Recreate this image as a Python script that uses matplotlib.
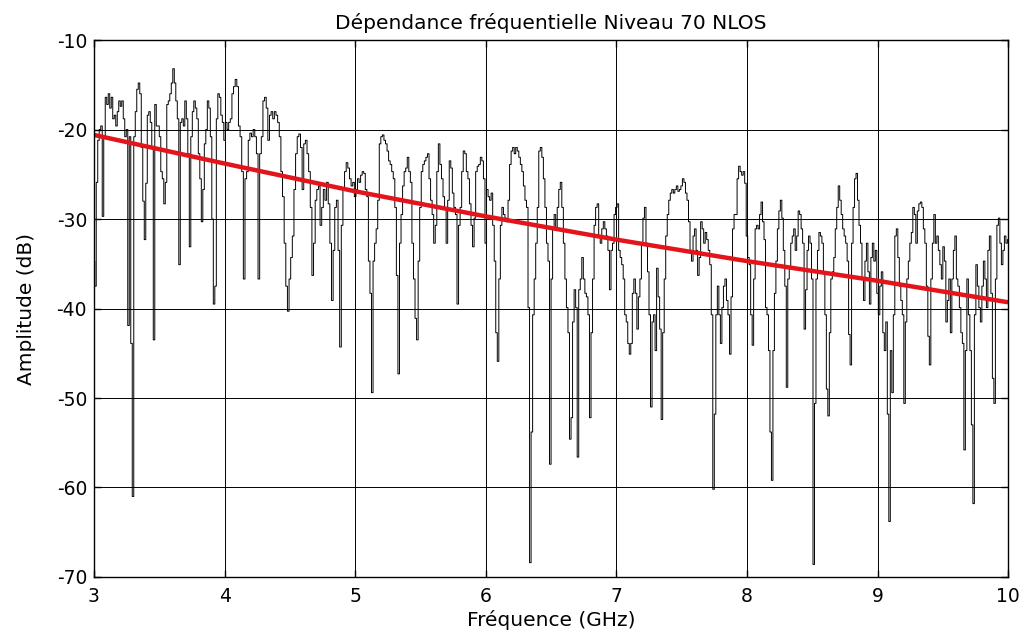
import numpy as np
import matplotlib
matplotlib.use("Agg")
import matplotlib.pyplot as plt

plt.rcParams['font.family'] = ['DejaVu Sans']
plt.rcParams['axes.unicode_minus'] = False

# Measured amplitude (dB), read per 1-GHz band, evenly spaced in each band
amp_3_4 = [-34.7, -37.5, -25.9, -21.2, -20.0, -19.6, -29.7, -20.8, -16.4, -17.2, -16.0, -17.6, -16.4,
           -18.8, -18.4, -19.6, -18.0, -16.8, -17.4, -16.8, -18.8, -20.8, -20.0, -41.9, -20.8, -43.9,
           -61.0, -20.8, -18.0, -15.5, -14.8, -16.0, -22.0, -28.0, -32.3, -26.0, -18.4, -18.0, -19.2,
           -22.0, -43.5, -17.2, -19.6, -19.6, -20.8, -24.7, -25.5, -28.3, -25.9, -17.2, -16.8, -16.0,
           -14.8, -13.2, -14.8, -16.8, -18.8, -35.1, -19.2, -18.8, -19.6, -16.8, -18.8, -22.7, -33.1,
           -20.8, -18.0, -16.8, -17.6, -18.8, -22.7, -25.5, -30.3, -26.7, -21.6, -20.0, -16.8, -17.6,
           -20.8, -30.0, -39.5, -37.5, -18.8, -16.0, -16.4, -18.4, -19.2]
amp_4_5 = [-21.2, -19.2, -20.0, -19.2, -18.8, -16.0, -15.2, -14.4, -15.2, -19.6, -20.8, -24.7, -36.7,
           -25.5, -24.7, -21.2, -20.4, -20.8, -20.0, -20.8, -22.7, -36.7, -22.7, -20.8, -16.8, -16.4,
           -17.6, -21.2, -18.4, -18.0, -18.8, -18.0, -18.4, -19.2, -20.8, -24.7, -27.5, -32.7, -37.5,
           -40.3, -36.7, -34.3, -31.9, -26.7, -22.7, -20.8, -20.5, -22.0, -26.7, -21.6, -21.2, -22.7,
           -24.7, -28.7, -36.3, -32.7, -27.9, -26.7, -26.3, -30.7, -28.7, -26.7, -27.9, -25.9, -28.3,
           -32.7, -39.1, -33.5, -28.7, -27.9, -33.5, -44.3, -30.7, -26.7, -24.7, -23.7, -24.3, -25.5,
           -26.3, -25.9]
amp_5_6 = [-27.5, -26.7, -25.5, -25.9, -25.1, -24.7, -24.9, -26.7, -27.5, -34.7, -38.3, -49.4, -34.7,
           -32.7, -31.1, -27.9, -21.6, -20.8, -20.6, -21.2, -21.6, -22.4, -23.5, -23.9, -24.7, -25.5,
           -28.7, -36.3, -47.3, -32.7, -29.5, -26.3, -24.7, -24.3, -23.1, -24.7, -25.9, -32.7, -36.7,
           -41.1, -43.5, -34.7, -28.7, -24.7, -23.9, -23.5, -23.1, -22.7, -25.5, -27.9, -29.5, -32.7,
           -30.7, -24.7, -21.6, -23.9, -25.5, -27.5, -28.7, -32.7, -27.9, -23.5, -24.3, -27.1, -28.7,
           -29.5, -39.5, -30.7, -28.7, -24.7, -22.4, -22.7, -24.7, -25.5, -28.3, -30.7, -33.1, -29.9,
           -24.7, -24.1, -23.9, -23.1, -23.5, -25.5]
amp_6_7 = [-32.7, -26.7, -27.5, -27.9, -27.1, -30.7, -34.7, -42.7, -45.9, -36.7, -30.7, -28.7, -29.5,
           -29.9, -30.3, -27.9, -23.9, -22.4, -22.0, -22.7, -22.0, -22.4, -23.1, -23.9, -24.7, -26.3,
           -27.9, -28.7, -39.9, -68.4, -53.8, -40.7, -36.7, -32.7, -28.7, -22.4, -22.0, -23.1, -25.5,
           -28.7, -32.7, -34.7, -57.4, -36.7, -31.1, -29.5, -31.1, -28.7, -26.7, -25.9, -28.7, -32.7,
           -36.7, -39.9, -42.7, -54.6, -52.2, -41.5, -37.9, -39.9, -56.6, -37.9, -36.7, -34.3, -36.7,
           -38.3, -38.7, -40.7, -52.2, -42.7, -36.7, -30.7, -28.7, -28.3, -31.9, -32.7, -31.1, -30.3,
           -31.1, -31.9, -33.5, -37.9, -33.5, -32.7, -29.5]
amp_7_8 = [-28.7, -28.3, -33.5, -34.3, -35.1, -36.7, -40.7, -41.5, -43.9, -45.1, -43.9, -38.3, -36.7,
           -38.3, -42.3, -38.7, -36.7, -32.7, -29.9, -28.7, -32.7, -35.9, -40.7, -51.0, -41.5, -40.7,
           -44.7, -35.5, -38.7, -42.3, -52.4, -42.7, -36.7, -31.9, -29.5, -27.9, -27.1, -26.7, -27.1,
           -26.7, -26.3, -26.9, -26.7, -26.3, -25.5, -25.9, -27.1, -27.9, -30.3, -33.5, -34.7, -31.9,
           -31.1, -33.5, -36.3, -34.3, -30.3, -31.1, -32.7, -31.5, -32.3, -33.5, -35.1, -40.7, -60.2,
           -51.8, -40.7, -37.5, -40.7, -43.9, -39.9, -37.5, -36.7, -39.1, -40.7, -45.1, -38.7, -31.1,
           -29.5, -29.5, -25.5, -24.1, -24.7, -25.1, -24.7, -26.0]
amp_8_9 = [-31.9, -34.3, -35.1, -40.7, -44.1, -36.7, -31.1, -30.7, -31.1, -29.5, -28.1, -30.3, -32.3,
           -39.9, -40.7, -44.7, -53.8, -59.2, -44.7, -38.3, -34.7, -31.1, -29.1, -27.9, -29.9, -33.5,
           -37.5, -48.8, -36.7, -35.5, -32.7, -31.9, -31.1, -33.5, -31.9, -29.1, -29.5, -31.1, -32.7,
           -42.3, -37.9, -33.5, -31.9, -32.7, -36.7, -68.6, -50.6, -36.7, -33.5, -31.5, -31.9, -32.7,
           -35.9, -40.7, -49.0, -52.0, -42.7, -36.7, -35.9, -34.3, -31.1, -28.7, -26.3, -27.9, -29.5,
           -31.1, -31.9, -32.7, -34.7, -42.9, -46.3, -32.7, -28.7, -25.5, -24.9, -27.9, -30.7, -32.7,
           -36.7, -39.1, -34.7, -32.7, -35.9, -39.5, -34.3, -32.7, -34.7, -33.5]
amp_9_10 = [-38.3, -40.7, -37.5, -35.9, -42.7, -44.7, -41.5, -51.8, -63.8, -44.7, -49.4, -40.7, -31.9,
            -31.1, -34.3, -37.5, -39.1, -40.7, -50.6, -41.5, -36.7, -34.7, -32.7, -31.5, -28.7, -29.5,
            -32.7, -29.1, -28.3, -28.1, -28.7, -31.1, -32.7, -37.5, -43.1, -46.3, -36.7, -32.7, -29.5,
            -32.7, -31.9, -33.5, -35.1, -36.7, -33.1, -34.7, -41.5, -39.1, -36.7, -42.7, -36.7, -33.5,
            -31.9, -36.7, -37.5, -39.9, -42.7, -43.9, -55.8, -44.7, -36.7, -40.7, -44.7, -53.0, -61.8,
            -40.7, -35.1, -37.5, -39.9, -41.5, -37.5, -34.7, -36.7, -39.9, -33.5, -31.9, -38.3, -47.8,
            -50.6, -36.7, -30.7, -29.9, -32.7, -35.1, -33.5, -31.9, -32.7, -32.3]

bands = [amp_3_4, amp_4_5, amp_5_6, amp_6_7, amp_7_8, amp_8_9, amp_9_10]
band_starts = [3, 4, 5, 6, 7, 8, 9]

# Fitted trend (red line)
fit_freq = [3, 4, 5, 6, 7, 8, 9, 10]
fit_amp = [-20.6, -23.8, -26.9, -29.7, -32.3, -34.7, -36.9, -39.3]

xticks = [3, 4, 5, 6, 7, 8, 9, 10]
yticks = [-70, -60, -50, -40, -30, -20, -10]

freq = []
amp = []
for start, vals in zip(band_starts, bands):
    n = len(vals)
    freq.extend(list(np.linspace(start, start + 1, n, endpoint=(start == 9))))
    amp.extend(vals)

fig = plt.figure(figsize=(10.26, 6.36), dpi=100)
ax = fig.add_axes([0.0916, 0.0928, 0.891, 0.8442])

ax.plot(freq, amp, color='black', linewidth=0.7, drawstyle='steps-mid')
ax.plot(fit_freq, fit_amp, color='#e3141b', linewidth=3.2, solid_capstyle='butt')

ax.set_xlim(3, 10)
ax.set_ylim(-70, -10)
ax.set_xticks(xticks)
ax.set_yticks(yticks)
ax.grid(True, color='black', linewidth=0.7, linestyle='-')
ax.set_axisbelow(True)
ax.tick_params(direction='in', length=5, width=1.0, top=True, right=True, labelsize=13.5)
ax.tick_params(axis='x', pad=7)
ax.tick_params(axis='y', pad=5)
for s in ax.spines.values():
    s.set_linewidth(1.0)
    s.set_color('black')

ax.set_title('Dépendance fréquentielle Niveau 70 NLOS', fontsize=14.5, pad=8)
ax.set_xlabel('Fréquence (GHz)', fontsize=14.5, labelpad=3)
ax.set_ylabel('Amplitude (dB)', fontsize=14.5, labelpad=15)

fig.savefig('out.png', dpi=100)
